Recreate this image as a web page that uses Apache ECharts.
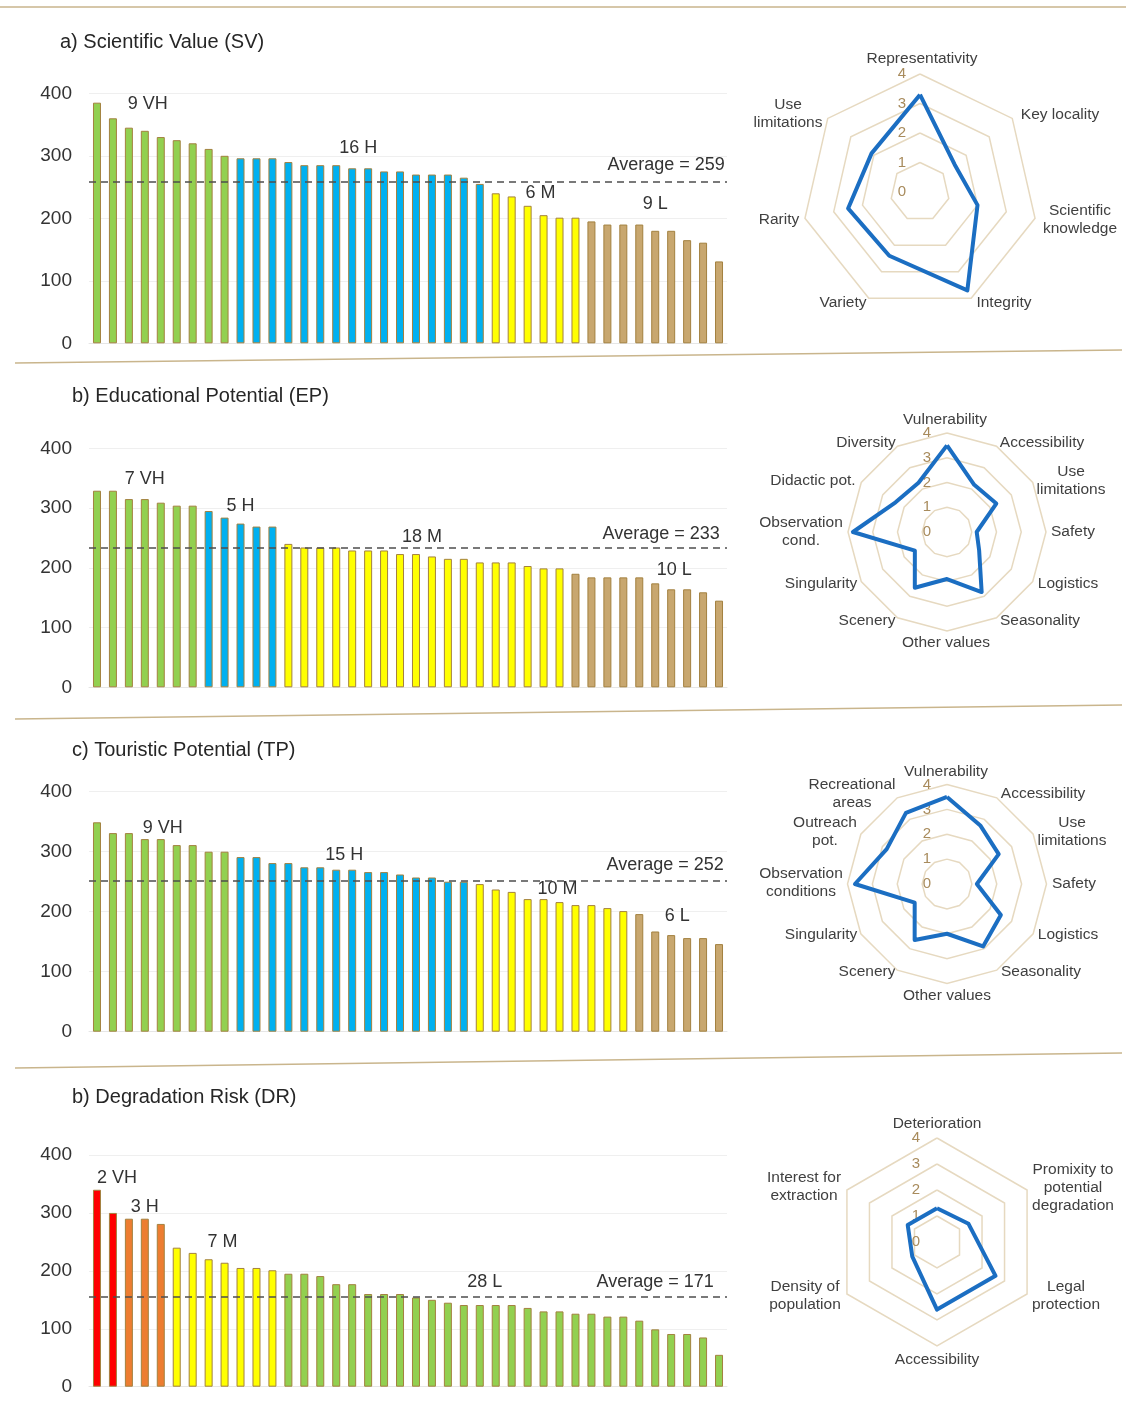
<!DOCTYPE html>
<html><head><meta charset="utf-8">
<script src="https://cdn.jsdelivr.net/npm/echarts@6/dist/echarts.min.js"></script>
<style>html,body{margin:0;padding:0;background:#fff}#c{width:1126px;height:1416px}</style>
</head><body><div id="c"></div>
<script>
// ---------- DATA ----------
const yTicks = [0, 100, 200, 300, 400];

const svValues = [385,360,345,340,330,325,320,311,300, 296,296,296,290,285,285,285,280,280,275,275,270,270,270,265,255, 240,235,220,205,201,201, 195,190,190,190,180,180,165,161,131];
const svGroups = [9,16,6,9];
const svAverage = 259;
const svNotes = [{t:'9 VH',i:3,v:383,dx:3},{t:'16 H',i:16,v:312,dx:6},{t:'6 M',i:28,v:240,dx:-3},{t:'9 L',i:35,v:223,dx:0},{t:'Average = 259',i:36,v:285,dx:-5}];

const epValues = [329,329,315,315,309,304,304, 295,284,274,269,269, 240,234,234,234,229,229,229,223,223,219,215,215,209,209,209,203,199,199, 190,184,184,184,184,174,164,164,159,145];
const epGroups = [7,5,18,10];
const epAverage = 233;
const epNotes = [{t:'7 VH',i:3,v:349,dx:0},{t:'5 H',i:9,v:303,dx:0},{t:'18 M',i:20,v:251,dx:6},{t:'10 L',i:36,v:196,dx:3},{t:'Average = 233',i:35,v:256,dx:6}];

const tpValues = [349,331,331,321,321,311,311,300,300, 291,291,281,281,274,274,270,270,266,266,262,257,257,250,250, 246,237,233,221,221,216,211,211,206,201, 196,167,161,156,156,146];
const tpGroups = [9,15,10,6];
const tpAverage = 252;
const tpNotes = [{t:'9 VH',i:4,v:339,dx:2},{t:'15 H',i:15,v:294,dx:8},{t:'10 M',i:29,v:238,dx:-2},{t:'6 L',i:36,v:193,dx:6},{t:'Average = 252',i:36,v:278,dx:-6}];

const drValues = [340,300, 290,290,281, 240,231,220,214,205,205,201, 195,195,191,177,177,160,160,160,154,150,145,141,141,141,141,136,130,130,126,126,121,121,114,99,91,91,85,55];
const drGroups = [2,3,7,28];
const drAverageLine = 156;
const drNotes = [{t:'2 VH',i:1,v:360,dx:4},{t:'3 H',i:3,v:310,dx:0},{t:'7 M',i:8,v:250,dx:-2},{t:'28 L',i:24,v:180,dx:5},{t:'Average = 171',i:35,v:180,dx:0}];

const svRadarNames = ['Representativity','Key locality','Scientific\nknowledge','Integrity','Variety','Rarity','Use\nlimitations'];
const svRadarValues = [3.3,1.5,2.0,3.7,2.4,2.5,2.1];
const epRadarNames = ['Vulnerability','Accessibility','Use\nlimitations','Safety','Logistics','Seasonality','Other values','Scenery','Singularity','Observation\ncond.','Didactic pot.','Diversity'];
const epRadarValues = [3.5,2.2,2.3,1.2,1.5,2.8,1.9,2.6,1.5,3.8,2.4,2.3];
const tpRadarNames = ['Vulnerability','Accessibility','Use\nlimitations','Safety','Logistics','Seasonality','Other values','Scenery','Singularity','Observation\nconditions','Outreach\npot.','Recreational\nareas'];
const tpRadarValues = [3.5,2.7,2.4,1.2,2.5,2.9,2.0,2.6,1.5,3.7,2.8,3.3];
const drRadarNames = ['Deterioration','Promixity to\npotential\ndegradation','Legal\nprotection','Accessibility','Density of\npopulation','Interest for\nextraction'];
const drRadarValues = [1.3,1.4,2.6,2.6,1.1,1.3];

const titles = ['a) Scientific Value (SV)','b) Educational Potential (EP)','c) Touristic Potential (TP)','b) Degradation Risk (DR)'];

// ---------- STYLE / LAYOUT ----------
const FONT = '"Liberation Sans", Arial, sans-serif';
const GREEN='#92d050', BLUE='#00b0f0', YELLOW='#ffff00', TAN='#c8a76f', RED='#ff0000', ORANGE='#ed7d31';
const potColors = [GREEN, BLUE, YELLOW, TAN];
const riskColors = [RED, ORANGE, YELLOW, GREEN];

const grids = [
  {left:89, width:638, top:93.3, height:250},
  {left:89, width:638, top:448.3, height:239},
  {left:89, width:638, top:791.7, height:240},
  {left:89, width:638, top:1155, height:231.7}
];
const radarLayout = [
  {center:[920,192], radius:118},
  {center:[947,532], radius:99},
  {center:[947,884], radius:99.5},
  {center:[937,1242], radius:104}
];
const radarLabelMargin = [14, 16, 16, 17];
// centre positions of the radar axis names (text placement only)
const radarNamePos = [
  [[922,59],[1060,115],[1080,220],[1004,303],[843,303],[779,220],[788,114]],
  [[945,420],[1042,443],[1071,481],[1073,532],[1068,584],[1040,621],[946,643],[867,621],[821,584],[801,532],[813,481],[866,443]],
  [[946,772],[1043,794],[1072,832],[1074,884],[1068,935],[1041,972],[947,996],[867,972],[821,935],[801,883],[825,832],[852,794]],
  [[937,1124],[1073,1188],[1066,1296],[937,1360],[805,1296],[804,1187]]
];
const titlePos = [[60,42],[72,396],[72,750],[72,1097]];

function colored(values, groups, colors){
  const out=[]; let k=0;
  groups.forEach((n,g)=>{ for(let j=0;j<n;j++){ out.push({value:values[k++], itemStyle:{color:colors[g]}}); } });
  return out;
}
function barSeries(idx, values, groups, colors, avg, notes){
  return {
    type:'bar', xAxisIndex:idx, yAxisIndex:idx, barWidth:8,
    data: colored(values, groups, colors),
    itemStyle:{borderColor:'#a3813f', borderWidth:1},
    markLine:{silent:true, symbol:['none','none'], label:{show:false},
      lineStyle:{color:'#4d4d4d', type:[7,5], width:1.6}, data:[{yAxis:avg}]},
    markPoint:{silent:true, symbol:'circle', symbolSize:0,
      label:{show:true, position:'inside', color:'#333', fontSize:18, fontFamily:FONT},
      data: notes.map(n=>({coord:[n.i,n.v], label:{formatter:n.t, offset:[n.dx,0]}}))}
  };
}
// radar: indicators placed counter-clockwise by ECharts, so reverse the tail for clockwise order
function cw(arr){ return [arr[0]].concat(arr.slice(1).reverse()); }
function radarCfg(idx, names){
  const ind = cw(names).map((n,i)=>{
    const o = {name:n, min:0, max:4};
    if(i===0) o.axisLabel = {show:true, color:'#a88b5c', fontSize:15, fontFamily:FONT, margin:radarLabelMargin[idx]};
    return o;
  });
  return Object.assign({}, radarLayout[idx], {
    startAngle:90, splitNumber:4, shape:'polygon',
    axisName:{show:false},
    splitLine:{lineStyle:{color:'#e6d9c0', width:1.5}},
    splitArea:{show:false}, axisLine:{show:false}, axisTick:{show:false},
    axisLabel:{show:false},
    indicator: ind
  });
}
function radarSeries(idx, values){
  return {type:'radar', radarIndex:idx, symbol:'none', silent:true,
    lineStyle:{color:'#1b6ec2', width:4}, data:[{value:cw(values)}]};
}
const allRadarNames = [svRadarNames, epRadarNames, tpRadarNames, drRadarNames];
const nameTexts = [];
allRadarNames.forEach((names, r)=>{
  names.forEach((n, i)=>{
    const p = radarNamePos[r][i];
    nameTexts.push({type:'text', x:p[0], y:p[1], silent:true,
      style:{text:n, fill:'#404040', font:'15.5px '+FONT, align:'center', verticalAlign:'middle', lineHeight:18}});
  });
});

const option = {
  animation:false,
  backgroundColor:'#fff',
  textStyle:{fontFamily:FONT},
  grid: grids,
  xAxis: grids.map((g,i)=>({type:'category', gridIndex:i, data:svValues.map((_,k)=>String(k+1)),
    axisLine:{show:true, lineStyle:{color:'#e6e6e6'}}, axisTick:{show:false}, axisLabel:{show:false}})),
  yAxis: grids.map((g,i)=>({type:'value', gridIndex:i, min:yTicks[0], max:yTicks[yTicks.length-1], interval:100,
    axisLine:{show:false}, axisTick:{show:false},
    axisLabel:{color:'#333', fontSize:19, fontFamily:FONT, margin:17},
    splitLine:{lineStyle:{color:'#efefef'}}})),
  radar: [radarCfg(0, svRadarNames), radarCfg(1, epRadarNames), radarCfg(2, tpRadarNames), radarCfg(3, drRadarNames)],
  series: [
    barSeries(0, svValues, svGroups, potColors, svAverage, svNotes),
    barSeries(1, epValues, epGroups, potColors, epAverage, epNotes),
    barSeries(2, tpValues, tpGroups, potColors, tpAverage, tpNotes),
    barSeries(3, drValues, drGroups, riskColors, drAverageLine, drNotes),
    radarSeries(0, svRadarValues), radarSeries(1, epRadarValues), radarSeries(2, tpRadarValues), radarSeries(3, drRadarValues)
  ],
  graphic: [
    {type:'line', shape:{x1:0,y1:7,x2:1126,y2:7}, style:{stroke:'#c9b58c', lineWidth:1.5}},
    {type:'line', shape:{x1:15,y1:363,x2:1122,y2:350}, style:{stroke:'#c9b58c', lineWidth:1.5}},
    {type:'line', shape:{x1:15,y1:719,x2:1122,y2:705}, style:{stroke:'#c9b58c', lineWidth:1.5}},
    {type:'line', shape:{x1:15,y1:1068,x2:1122,y2:1053}, style:{stroke:'#c9b58c', lineWidth:1.5}}
  ].concat(titles.map((t,i)=>({type:'text', x:titlePos[i][0], y:titlePos[i][1],
    style:{text:t, fill:'#262626', font:'20px '+FONT, verticalAlign:'middle'}}))).concat(nameTexts)
};
const chart = echarts.init(document.getElementById('c'), null, {renderer:'canvas'});
chart.setOption(option);
</script></body></html>
